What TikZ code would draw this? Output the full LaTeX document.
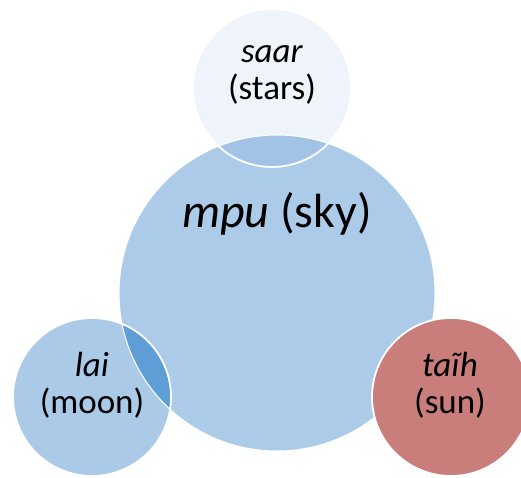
\documentclass[tikz,border=0pt]{standalone}
\usepackage{fontspec}
\setmainfont{Carlito}
\usepackage{tikz}
\usetikzlibrary{positioning}
\definecolor{skyColor}{HTML}{ACCBE8}
\definecolor{starColor}{HTML}{EEF4FA}
\definecolor{moonColor}{HTML}{AACAE8}
\definecolor{sunColor}{HTML}{C97E7C}
\definecolor{starOverlap}{HTML}{A2C3E6}
\definecolor{moonOverlap}{HTML}{5E9DD6}

\begin{document}
\begin{tikzpicture}[x=1pt, y=1pt,
    bubble/.style={circle, inner sep=0pt, minimum size=158pt},
    rim/.style={draw=white, line width=1.8pt},
    word/.style={font=\fontsize{35}{37}\selectfont, align=center, inner sep=0pt}]
  \useasboundingbox (0,0) rectangle (521,477);
  % circles
  \node[bubble, fill=skyColor, minimum size=316pt] (sky) at (277,184) {};
  \node[bubble, fill=starColor] (stars) at (272,389) {};
  \node[bubble, fill=moonColor] (moon) at (92,80) {};
  \begin{scope}
    \clip (stars.center) circle[radius=79];
    \fill[starOverlap] (sky.center) circle[radius=158];
  \end{scope}
  \begin{scope}
    \clip (moon.center) circle[radius=79];
    \fill[moonOverlap] (sky.center) circle[radius=158];
  \end{scope}
  \draw[rim, line width=1pt] (sky.center) circle[radius=158];
  \draw[rim] (stars.center) circle[radius=79];
  \draw[rim] (moon.center) circle[radius=79];
  \node[bubble, fill=sunColor, rim] (sun) at (451,80) {};
  % labels
  \node[word, font=\fontsize{48}{50}\selectfont, anchor=base] (skyText) at (277,250) {\textit{mpu} (sky)};
  \node[word, anchor=base] (starsText) at (272,377) {\textit{saar}\\(stars)};
  \node[word, anchor=base] (moonText) at (92,64) {\textit{lai}\\(moon)};
  \node[word, anchor=base] (sunText) at (450,64) {\textit{taĩh}\\(sun)};
\end{tikzpicture}
\end{document}
